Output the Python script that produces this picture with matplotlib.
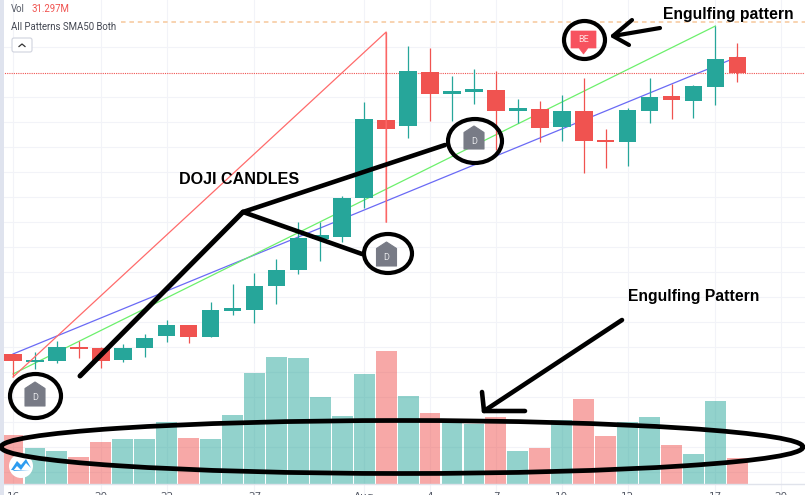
import matplotlib
matplotlib.use('Agg')
import matplotlib.pyplot as plt
import matplotlib.patches as patches

# daily candles, prices in chart units, volume in millions
opens = [14.6, 13.85, 13.9, 15.3, 15.2, 14.0, 15.2, 16.4, 17.5, 16.3, 18.9, 19.0,
         21.4, 23.0, 26.1, 26.3, 30.2, 38.0, 37.4, 42.8, 40.6, 40.8, 41.0, 38.9,
         39.1, 37.3, 38.9, 36.0, 35.8, 38.9, 40.4, 39.9, 41.3, 44.3]
highs = [14.6, 14.8, 15.9, 15.9, 15.3, 15.6, 16.6, 18.0, 17.5, 19.8, 21.6, 22.7,
         24.1, 27.8, 27.8, 30.4, 39.8, 46.8, 45.4, 45.2, 42.4, 43.1, 42.9, 40.1,
         39.9, 40.5, 42.2, 37.1, 39.2, 42.2, 41.6, 41.5, 47.4, 45.7]
lows = [12.3, 13.1, 13.7, 14.2, 13.2, 13.8, 14.3, 15.8, 15.7, 16.3, 18.5, 17.7,
        19.6, 22.6, 23.9, 25.8, 29.2, 27.8, 36.2, 37.9, 37.9, 39.6, 35.0, 37.7,
        35.8, 35.9, 32.7, 33.2, 33.4, 37.7, 38.1, 38.2, 39.5, 41.8]
closes = [13.9, 14.0, 15.3, 15.1, 13.9, 15.2, 16.2, 17.5, 16.3, 19.0, 19.2, 21.4,
          23.0, 26.2, 26.5, 30.2, 38.1, 37.1, 42.9, 40.6, 40.9, 41.1, 38.9, 39.2,
          37.2, 38.9, 35.9, 35.8, 39.0, 40.3, 40.0, 41.4, 44.1, 42.7]
volumes = [59.5, 43.6, 39.3, 32.5, 51.3, 54.6, 54.6, 75.5, 56.2, 55.0, 84.0, 136.0,
           155.6, 154.4, 106.5, 82.8, 134.4, 162.6, 107.4, 86.5, 75.5, 73.0, 81.6, 40.2,
           43.6, 77.9, 103.7, 58.7, 75.5, 81.6, 47.2, 36.2, 101.2, 31.297]

tick_pos = [0, 4, 7, 11, 16, 19, 22, 25, 28, 32, 35]
tick_labels = ['16', '20', '22', '27', 'Aug', '4', '7', '10', '12', '17', '20']
price_grid = [2.8, 5.3, 7.8, 10.3, 12.8, 15.3, 17.8, 20.3, 22.8, 25.3, 27.8, 30.3,
              32.8, 35.3, 37.8, 40.3, 45.3]

UP = '#26a69a'
DOWN = '#f05350'
GRID = '#f2f3f8'
BOLD = 'Liberation Sans'
UI = 'Roboto'

fig = plt.figure(figsize=(8.05, 4.95), dpi=100, facecolor='white')
ax = fig.add_axes([0, 0, 1, 1])
ax.set_xlim(-0.592, 36.08)
ax.set_ylim(0.5, 50)
ax.set_xticks(tick_pos, tick_labels)
ax.set_yticks(price_grid, [])
ax.tick_params(axis='x', direction='in', length=0, pad=-2.2, labelsize=7.5, labelcolor='#555a66')
ax.tick_params(axis='y', length=0)
ax.grid(color=GRID, lw=0.8)
ax.set_axisbelow(True)
for s in ax.spines.values():
    s.set_visible(False)
# tick labels run off the bottom edge in the screenshot
for lb in ax.get_xticklabels():
    lb.set_clip_on(False)

xs = list(range(len(opens)))
colors = [UP if c >= o else DOWN for o, c in zip(opens, closes)]

ax.vlines(xs, lows, highs, colors=colors, lw=0.9, zorder=3)
ax.bar(xs, [abs(c - o) for o, c in zip(opens, closes)],
       bottom=[min(o, c) for o, c in zip(opens, closes)],
       width=0.8, color=colors, zorder=4)

# pattern lines: swing low to swing high and so on
ax.plot([0, 17, 17], [lows[0], highs[17], lows[17]], color='#ff6b6b', lw=0.9, zorder=5)
ax.plot([0, 33], [highs[0], opens[33]], color='#6a6af5', lw=0.9, zorder=2)
ax.plot([0, 32], [12.6, highs[32]], color='#6cf06c', lw=0.9, zorder=2)

ax.axhline(closes[-1], color=DOWN, lw=0.8, ls=(0, (1, 1)), zorder=2)
ax.plot([4.9, 36.08], [47.8, 47.8], color='#f7c89b', lw=1.1, ls=(0, (3, 2.5)), zorder=2)

ax_vol = ax.twinx()
ax_vol.set_ylim(-14.1, 593.3)
ax_vol.set_yticks([])
ax_vol.patch.set_visible(False)
for s in ax_vol.spines.values():
    s.set_visible(False)
ax_vol.bar(xs, volumes, width=0.95, color=colors, alpha=0.5, lw=0)
ax_vol.axhline(0, color='#e0e3eb', lw=1)

# annotations drawn by hand on top, in image pixels
ov = fig.add_axes([0, 0, 1, 1], facecolor='none')
ov.set_xlim(0, 805)
ov.set_ylim(495, 0)
ov.axis('off')

ov.add_patch(patches.Rectangle((0, 0), 3.5, 495, fc='#dfe3ee', lw=0))

ov.text(11, 9, 'Vol', fontsize=6.9, family=UI, color='#555a66', va='center')
ov.text(31, 9, '31.297M', fontsize=6.9, family=UI, color='#f05350', va='center')
ov.text(11, 27, 'All Patterns SMA50 Both', fontsize=6.9, family=UI, color='#444853', va='center')
ov.add_patch(patches.FancyBboxPatch((12, 38), 20, 14, boxstyle='round,pad=0,rounding_size=2',
                                    fc='white', ec='#d0d3de', lw=0.8))
ov.plot([19, 22, 25], [46.5, 44, 46.5], color='#333', lw=0.9)


def house(cx, top, bottom):
    ov.add_patch(patches.Polygon(
        [(cx, top), (cx + 10, top + 6.5), (cx + 10, bottom), (cx - 10, bottom), (cx - 10, top + 6.5)],
        fc='#787b86', ec='#787b86', lw=0.8, joinstyle='round', zorder=6))
    ov.text(cx, top + 15, 'D', color='#e6e7ea', fontsize=6.5, family=UI, ha='center', va='center', zorder=7)


house(35, 382, 406)
house(474, 126, 149)
house(386.5, 242, 266)

ov.add_patch(patches.Polygon(
    [(571, 31), (596, 31), (596, 48), (588, 48), (583.5, 54), (579, 48), (571, 48)],
    fc='#f7525f', ec='#f7525f', lw=0.5, joinstyle='round', zorder=6))
ov.text(583.5, 39, 'BE', color='#ffdfe0', fontsize=6.5, family=UI, ha='center', va='center', zorder=7)

ov.add_patch(patches.Circle((21, 466), 12, fc='white', lw=0, zorder=6))
ov.add_patch(patches.Polygon(
    [(11, 470), (17, 461), (21, 465), (26, 459), (31, 468), (28, 465), (26, 463), (21, 470), (17, 466), (13, 471), (30, 471)],
    fc='#2d9cf0', lw=0, zorder=7))

BLACK = dict(color='black', solid_capstyle='round', solid_joinstyle='round', zorder=9)
ov.plot([80, 243], [376, 212], lw=3.6, **BLACK)
ov.plot([445, 243, 362], [145, 212, 254], lw=3.3, **BLACK)
ov.plot([660, 613], [28, 36], lw=3, **BLACK)
ov.plot([632, 613, 629], [20, 36, 45], lw=3, **BLACK)
ov.plot([622, 484], [320, 411], lw=3.3, **BLACK)
ov.plot([482, 484, 525], [392, 411, 411], lw=3.3, **BLACK)

ov.add_patch(patches.Ellipse((402, 447), 802, 53, fc='none', ec='black', lw=3.4, zorder=9))
for cx, cy, w, h in [(35.5, 396, 51, 44), (475, 141, 54, 44), (388, 253.5, 48, 39), (584.5, 40, 41, 38)]:
    ov.add_patch(patches.Ellipse((cx, cy), w, h, fc='none', ec='black', lw=3, zorder=9))

ov.text(239, 179, 'DOJI CANDLES', fontsize=11.6, family=BOLD, weight='bold', ha='center', va='center')
ov.text(728, 14, 'Engulfing pattern', fontsize=11.3, family=BOLD, weight='bold', ha='center', va='center')
ov.text(693.5, 296, 'Engulfing Pattern', fontsize=11.3, family=BOLD, weight='bold', ha='center', va='center')

fig.savefig('out.png', dpi=100)
